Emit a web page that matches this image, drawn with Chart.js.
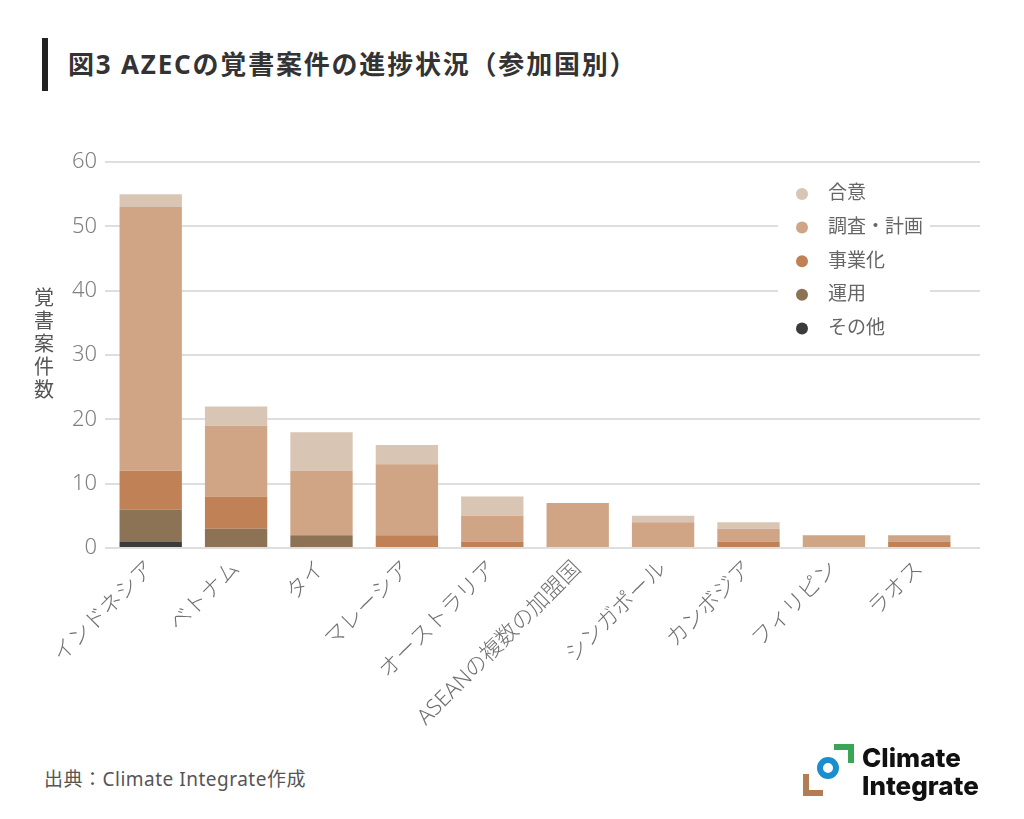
<!DOCTYPE html>
<html lang="ja">
<head>
<meta charset="utf-8">
<script src="https://cdn.jsdelivr.net/npm/chart.js@4/dist/chart.umd.min.js"></script>
<style>
    html, body { margin: 0; padding: 0; background: #fff; }
    body { width: 1024px; height: 819px; position: relative; overflow: hidden; font-family: "Noto Sans", "Noto Sans CJK JP", sans-serif; }
    .title-bar { position: absolute; left: 42px; top: 38px; width: 6px; height: 53px; background: #222; }
    .title { position: absolute; left: 68px; top: 44px; font-size: 26px; font-weight: bold; color: #333; letter-spacing: 1.8px; }
    .chart-box { position: absolute; left: 0; top: 130px; width: 1024px; height: 620px; }
    .source { position: absolute; left: 44px; top: 764px; font-size: 19px; color: #555; letter-spacing: 0.5px; }
    .logo { position: absolute; left: 800px; top: 742px; }
</style>
</head>
<body>
<div class="title-bar"></div>
<div class="title">図3 AZECの覚書案件の進捗状況（参加国別）</div>
<div class="chart-box"><canvas id="chart" width="1024" height="620"></canvas></div>
<div class="source">出典：Climate Integrate作成</div>
<svg class="logo" width="190" height="60" viewBox="0 0 190 60">
    <path d="M34 5 H51 V21" fill="none" stroke="#3aa655" stroke-width="6"/>
    <circle cx="28" cy="26" r="8" fill="none" stroke="#1a8fd0" stroke-width="6"/>
    <path d="M6 32 V51 H23" fill="none" stroke="#b27c54" stroke-width="6"/>
    <text x="62" y="25" font-family="Inter, 'Noto Sans', sans-serif" font-weight="800" font-size="26" fill="#111">Climate</text>
    <text x="62" y="53" font-family="Inter, 'Noto Sans', sans-serif" font-weight="800" font-size="26" fill="#111">Integrate</text>
</svg>

<script>
// categories (countries)
const countries = ['インドネシア', 'ベトナム', 'タイ', 'マレーシア', 'オーストラリア',
    'ASEANの複数の加盟国', 'シンガポール', 'カンボジア', 'フィリピン', 'ラオス'];

// series values, bottom of stack first
const sonota   = [1, 0, 0, 0, 0, 0, 0, 0, 0, 0];
const unyo     = [5, 3, 2, 0, 0, 0, 0, 0, 0, 0];
const jigyoka  = [6, 5, 0, 2, 1, 0, 0, 1, 0, 1];
const chosa    = [41, 11, 10, 11, 4, 7, 4, 2, 2, 1];
const goi      = [2, 3, 6, 3, 3, 0, 1, 1, 0, 0];

const yTicks = [0, 10, 20, 30, 40, 50, 60];

const series = [
    { label: 'その他', data: sonota, color: '#3b3b3b' },
    { label: '運用', data: unyo, color: '#8c7356' },
    { label: '事業化', data: jigyoka, color: '#c08157' },
    { label: '調査・計画', data: chosa, color: '#cfa586' },
    { label: '合意', data: goi, color: '#d8c5b3' }
];

const FONT = '"Noto Sans", "Noto Sans CJK JP", sans-serif';
const GRID = '#dedede';

// grid lines run a little past the last category
const gridTailPlugin = {
    id: 'gridTail',
    beforeDatasetsDraw(chart) {
        const ctx = chart.ctx;
        const y = chart.scales.y;
        const right = chart.chartArea.right;
        ctx.save();
        ctx.strokeStyle = GRID;
        ctx.lineWidth = 2;
        y.ticks.forEach(t => {
            const py = Math.round(y.getPixelForValue(t.value));
            ctx.beginPath();
            ctx.moveTo(right, py);
            ctx.lineTo(980, py);
            ctx.stroke();
        });
        ctx.restore();
    }
};

// legend in the top right corner, with a white box that cuts the grid lines
const legendPlugin = {
    id: 'cornerLegend',
    afterDatasetsDraw(chart) {
        const ctx = chart.ctx;
        const x = 790, top = 64, step = 33.6;
        ctx.save();
        ctx.fillStyle = '#fff';
        ctx.fillRect(x - 12, top - 18, 152, step * 5 + 8);
        ctx.font = '19px ' + FONT;
        ctx.textBaseline = 'middle';
        const items = series.slice().reverse();
        items.forEach((s, i) => {
            const y = top + i * step;
            ctx.beginPath();
            ctx.arc(x + 12, y, 6, 0, Math.PI * 2);
            ctx.fillStyle = s.color;
            ctx.fill();
            ctx.fillStyle = '#666';
            ctx.fillText(s.label, x + 38, y);
        });
        ctx.restore();
    }
};

// vertical y axis title, one character under another
const yTitlePlugin = {
    id: 'yTitle',
    afterDraw(chart) {
        const ctx = chart.ctx;
        const text = '覚書案件数';
        ctx.save();
        ctx.font = '20px ' + FONT;
        ctx.fillStyle = '#555';
        ctx.textAlign = 'center';
        ctx.textBaseline = 'middle';
        for (let i = 0; i < text.length; i++) {
            ctx.fillText(text[i], 44, 169 + i * 23);
        }
        ctx.restore();
    }
};

new Chart(document.getElementById('chart'), {
    type: 'bar',
    data: {
        labels: countries,
        datasets: series.map(s => ({
            label: s.label,
            data: s.data,
            backgroundColor: s.color,
            borderWidth: 0,
            barPercentage: 0.73,
            categoryPercentage: 1
        }))
    },
    options: {
        responsive: false,
        animation: false,
        devicePixelRatio: 1,
        layout: { padding: { left: 60, right: 62, top: 32, bottom: 0 } },
        plugins: {
            legend: { display: false },
            tooltip: { enabled: false }
        },
        scales: {
            x: {
                stacked: true,
                grid: { display: false, drawTicks: false },
                border: { display: false },
                afterFit(axis) { axis.height = 202; },
                ticks: {
                    color: '#707070',
                    font: { family: FONT, size: 22, weight: 300 },
                    maxRotation: 45,
                    minRotation: 45,
                    padding: 8,
                    autoSkip: false
                }
            },
            y: {
                stacked: true,
                min: 0,
                max: 60,
                afterFit(axis) { axis.width = 48; },
                afterBuildTicks(axis) {
                    axis.ticks = yTicks.map(v => ({ value: v }));
                },
                grid: { color: GRID, lineWidth: 2, tickLength: 3 },
                border: { display: false },
                ticks: {
                    color: '#808080',
                    font: { family: FONT, size: 22, weight: 300 },
                    padding: 8
                }
            }
        }
    },
    plugins: [gridTailPlugin, legendPlugin, yTitlePlugin]
});
</script>
</body>
</html>
